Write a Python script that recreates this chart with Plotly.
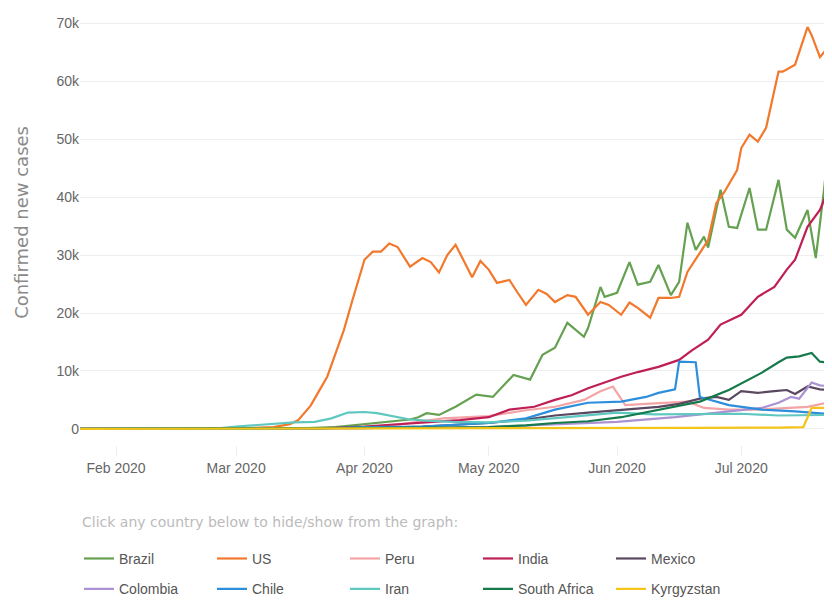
import plotly.graph_objects as go

# ---------------- data ----------------
countries = ["Brazil", "US", "Peru", "India", "Mexico",
             "Colombia", "Chile", "Iran", "South Africa", "Kyrgyzstan"]
colors = ["#66a152", "#f2782c", "#f4a3a6", "#bf1f55", "#5a4760",
          "#ab92d2", "#2d8fdc", "#5ec8c0", "#157a4b", "#f3c41a"]

us_dates = ["2020-01-22", "2020-03-01", "2020-03-10", "2020-03-14", "2020-03-16", "2020-03-19",
            "2020-03-21", "2020-03-23", "2020-03-25", "2020-03-27", "2020-03-29", "2020-03-31",
            "2020-04-01", "2020-04-03", "2020-04-05", "2020-04-07", "2020-04-09", "2020-04-12",
            "2020-04-15", "2020-04-17", "2020-04-19", "2020-04-21", "2020-04-23", "2020-04-25",
            "2020-04-27", "2020-04-29", "2020-05-01", "2020-05-03", "2020-05-06", "2020-05-08",
            "2020-05-10", "2020-05-13", "2020-05-15", "2020-05-17", "2020-05-20", "2020-05-22",
            "2020-05-25", "2020-05-28", "2020-05-30", "2020-06-02", "2020-06-04", "2020-06-06",
            "2020-06-09", "2020-06-11", "2020-06-14", "2020-06-16", "2020-06-18", "2020-06-21",
            "2020-06-23", "2020-06-25", "2020-06-27", "2020-06-30", "2020-07-01", "2020-07-03",
            "2020-07-05", "2020-07-07", "2020-07-10", "2020-07-11", "2020-07-13", "2020-07-14",
            "2020-07-17", "2020-07-18", "2020-07-20", "2020-07-23"]
us_vals = [0, 50, 300, 800, 1500, 4000,
           6500, 9000, 13000, 17000, 22000, 27000,
           29200, 30600, 30600, 32000, 31400, 28000,
           29500, 28800, 27000, 30000, 31800, 29000,
           26200, 29000, 27500, 25200, 25700, 23500,
           21400, 24000, 23300, 21900, 23100, 22800,
           19700, 21900, 21400, 19700, 21800, 20900,
           19200, 22600, 22600, 22800, 27100, 30400,
           32600, 39000, 41000, 44700, 48500, 50800,
           49600, 52000, 61700, 61700, 62500, 62900,
           69400, 68000, 64200, 66800]

brazil_dates = ["2020-01-22", "2020-03-15", "2020-03-25", "2020-04-01", "2020-04-08", "2020-04-12",
                "2020-04-14", "2020-04-16", "2020-04-19", "2020-04-23", "2020-04-28", "2020-05-02",
                "2020-05-07", "2020-05-11", "2020-05-14", "2020-05-17", "2020-05-20", "2020-05-24",
                "2020-05-25", "2020-05-28", "2020-05-29", "2020-06-01", "2020-06-04", "2020-06-06",
                "2020-06-09", "2020-06-11", "2020-06-14", "2020-06-16", "2020-06-18", "2020-06-20",
                "2020-06-22", "2020-06-23", "2020-06-26", "2020-06-28", "2020-06-30", "2020-07-03",
                "2020-07-05", "2020-07-07", "2020-07-10", "2020-07-12", "2020-07-14", "2020-07-17",
                "2020-07-19", "2020-07-21", "2020-07-23"]
brazil_vals = [0, 50, 300, 800, 1300, 1600,
               2000, 2700, 2400, 3800, 5900, 5500,
               9300, 8500, 12800, 14000, 18300, 15900,
               17400, 24500, 22800, 23500, 28800, 24900,
               25400, 28300, 23100, 25400, 35600, 30900,
               33200, 31300, 41300, 34900, 34700, 41600,
               34400, 34400, 43000, 34400, 33000, 37800,
               29500, 41300, 56000]

peru_dates = ["2020-01-22", "2020-03-15", "2020-04-01", "2020-04-10", "2020-04-20", "2020-05-01",
              "2020-05-10", "2020-05-17", "2020-05-24", "2020-05-28", "2020-05-31", "2020-06-03",
              "2020-06-08", "2020-06-14", "2020-06-18", "2020-06-22", "2020-06-28", "2020-07-05",
              "2020-07-12", "2020-07-17", "2020-07-23"]
peru_vals = [0, 20, 200, 800, 1800, 2200,
             3200, 3800, 5000, 6500, 7300, 4100,
             4300, 4500, 4700, 3600, 3300, 3300,
             3600, 3800, 4700]

india_dates = ["2020-01-22", "2020-03-20", "2020-04-01", "2020-04-10", "2020-04-20", "2020-04-24",
               "2020-05-01", "2020-05-06", "2020-05-12", "2020-05-17", "2020-05-21", "2020-05-25",
               "2020-05-29", "2020-06-02", "2020-06-06", "2020-06-11", "2020-06-16", "2020-06-19",
               "2020-06-23", "2020-06-26", "2020-07-01", "2020-07-05", "2020-07-09", "2020-07-12",
               "2020-07-14", "2020-07-17", "2020-07-20", "2020-07-23"]
india_vals = [0, 20, 400, 800, 1300, 1500,
              2000, 3300, 3800, 5000, 5800, 7000,
              8000, 9000, 9800, 10700, 11900, 13500,
              15400, 18000, 19700, 22800, 24500, 27500,
              29200, 34900, 37800, 43000]

mexico_dates = ["2020-01-22", "2020-04-01", "2020-04-15", "2020-05-01", "2020-05-10", "2020-05-17",
                "2020-05-25", "2020-06-01", "2020-06-11", "2020-06-16", "2020-06-21", "2020-06-25",
                "2020-06-28", "2020-07-01", "2020-07-05", "2020-07-09", "2020-07-12", "2020-07-14",
                "2020-07-17", "2020-07-20", "2020-07-23"]
mexico_vals = [0, 100, 400, 1000, 1600, 2300,
               2800, 3200, 3800, 4300, 5200, 5500,
               5000, 6500, 6200, 6500, 6700, 6000,
               7300, 6800, 6700]

colombia_dates = ["2020-01-22", "2020-04-01", "2020-05-01", "2020-05-20", "2020-06-01", "2020-06-15",
                  "2020-07-01", "2020-07-06", "2020-07-10", "2020-07-13", "2020-07-15", "2020-07-18",
                  "2020-07-20", "2020-07-23"]
colombia_vals = [0, 100, 300, 800, 1200, 2000,
                 3200, 3600, 4500, 5500, 5200, 8000,
                 7500, 7300]

chile_dates = ["2020-01-22", "2020-03-20", "2020-04-01", "2020-04-15", "2020-05-01", "2020-05-10",
               "2020-05-17", "2020-05-25", "2020-06-02", "2020-06-08", "2020-06-11", "2020-06-15",
               "2020-06-16", "2020-06-20", "2020-06-21", "2020-06-28", "2020-07-06", "2020-07-14",
               "2020-07-23"]
chile_vals = [0, 50, 300, 400, 1000, 1800,
              3300, 4500, 4700, 5500, 6200, 6800,
              11600, 11500, 5500, 4100, 3300, 3000,
              2500]

iran_dates = ["2020-01-22", "2020-02-20", "2020-02-25", "2020-03-01", "2020-03-05", "2020-03-10",
              "2020-03-15", "2020-03-20", "2020-03-24", "2020-03-28", "2020-04-01", "2020-04-04",
              "2020-04-08", "2020-04-12", "2020-04-16", "2020-04-22", "2020-05-01", "2020-05-10",
              "2020-05-20", "2020-06-01", "2020-06-10", "2020-06-20", "2020-07-01", "2020-07-10",
              "2020-07-23"]
iran_vals = [0, 0, 50, 400, 600, 800,
             1100, 1200, 1800, 2800, 2900, 2700,
             2200, 1600, 1400, 1200, 1100, 1400,
             2000, 2800, 2500, 2600, 2600, 2300,
             2400]

safrica_dates = ["2020-01-22", "2020-04-01", "2020-04-20", "2020-05-01", "2020-05-10", "2020-05-17",
                 "2020-05-25", "2020-06-02", "2020-06-11", "2020-06-21", "2020-06-28", "2020-07-06",
                 "2020-07-10", "2020-07-12", "2020-07-15", "2020-07-18", "2020-07-20", "2020-07-23"]
safrica_vals = [0, 100, 200, 300, 600, 1000,
                1300, 2000, 3300, 4700, 6700, 9700,
                11500, 12300, 12500, 13100, 11600, 11400]

kyrgyz_dates = ["2020-01-22", "2020-04-01", "2020-05-01", "2020-06-01", "2020-06-20", "2020-07-10",
                "2020-07-16", "2020-07-18", "2020-07-22", "2020-07-23"]
kyrgyz_vals = [0, 20, 30, 50, 150, 200,
               300, 3600, 3600, 800]

series_dates = [brazil_dates, us_dates, peru_dates, india_dates, mexico_dates,
                colombia_dates, chile_dates, iran_dates, safrica_dates, kyrgyz_dates]
series_vals = [brazil_vals, us_vals, peru_vals, india_vals, mexico_vals,
               colombia_vals, chile_vals, iran_vals, safrica_vals, kyrgyz_vals]

y_ticks = [0, 10000, 20000, 30000, 40000, 50000, 60000, 70000]
y_ticktext = ["0", "10k", "20k", "30k", "40k", "50k", "60k", "70k"]

# ---------------- figure ----------------
# the page body has an 8px margin, so the figure is sized to fill the window
FONT = "Liberation Sans, Arial, sans-serif"
FIG_W, FIG_H = 824, 596
ML, MR, MT, MB = 72, 0, 4, 159
PLOT_W = FIG_W - ML - MR

fig = go.Figure()
for i, (name, d, v, c) in enumerate(zip(countries, series_dates, series_vals, colors)):
    fig.add_trace(go.Scatter(
        x=d, y=v, name=name, mode="lines",
        line=dict(color=c, width=2.2),
        legend="legend" if i < 5 else "legend2",
    ))

legend_common = dict(
    orientation="h", x=-1 / PLOT_W, xanchor="left", yanchor="middle",
    entrywidth=88, entrywidthmode="pixels",
    font=dict(family=FONT, size=14, color="#555555"),
    bgcolor="rgba(0,0,0,0)",
)

fig.update_layout(
    width=FIG_W, height=FIG_H,
    margin=dict(l=ML, r=MR, t=MT, b=MB, autoexpand=False),
    paper_bgcolor="white", plot_bgcolor="white",
    showlegend=True,
    legend=dict(y=-0.263, **legend_common),
    legend2=dict(y=-0.333, **legend_common),
    xaxis=dict(
        type="date",
        range=["2020-01-23 07:00", "2020-07-22 22:00"],
        dtick="M1", tick0="2020-02-01", tickformat="%b %Y",
        showgrid=False, zeroline=False, showline=False,
        ticks="outside", ticklen=10, tickcolor="#eeeeee",
        tickfont=dict(family=FONT, size=14, color="#666666"),
        automargin=False,
    ),
    yaxis=dict(
        range=[-2800, 72000],
        tickvals=y_ticks, ticktext=y_ticktext,
        showgrid=True, gridcolor="#eeeeee", gridwidth=1,
        zeroline=False, showline=False,
        tickfont=dict(family=FONT, size=14, color="#666666"),
        automargin=False,
    ),
    annotations=[
        dict(text="Click any country below to hide/show from the graph:",
             xref="paper", yref="paper", x=0, y=-0.178, xanchor="left", yanchor="middle",
             showarrow=False, font=dict(family="DejaVu Sans, sans-serif", size=14, color="#bbbbbb")),
        dict(text="Confirmed new cases", textangle=-90,
             xref="paper", yref="paper", x=(14 - ML) / PLOT_W, y=0.513,
             xanchor="center", yanchor="middle", showarrow=False,
             font=dict(family="DejaVu Sans, sans-serif", size=18, color="#8a8a8a")),
    ],
)

fig.write_html("out.html")
